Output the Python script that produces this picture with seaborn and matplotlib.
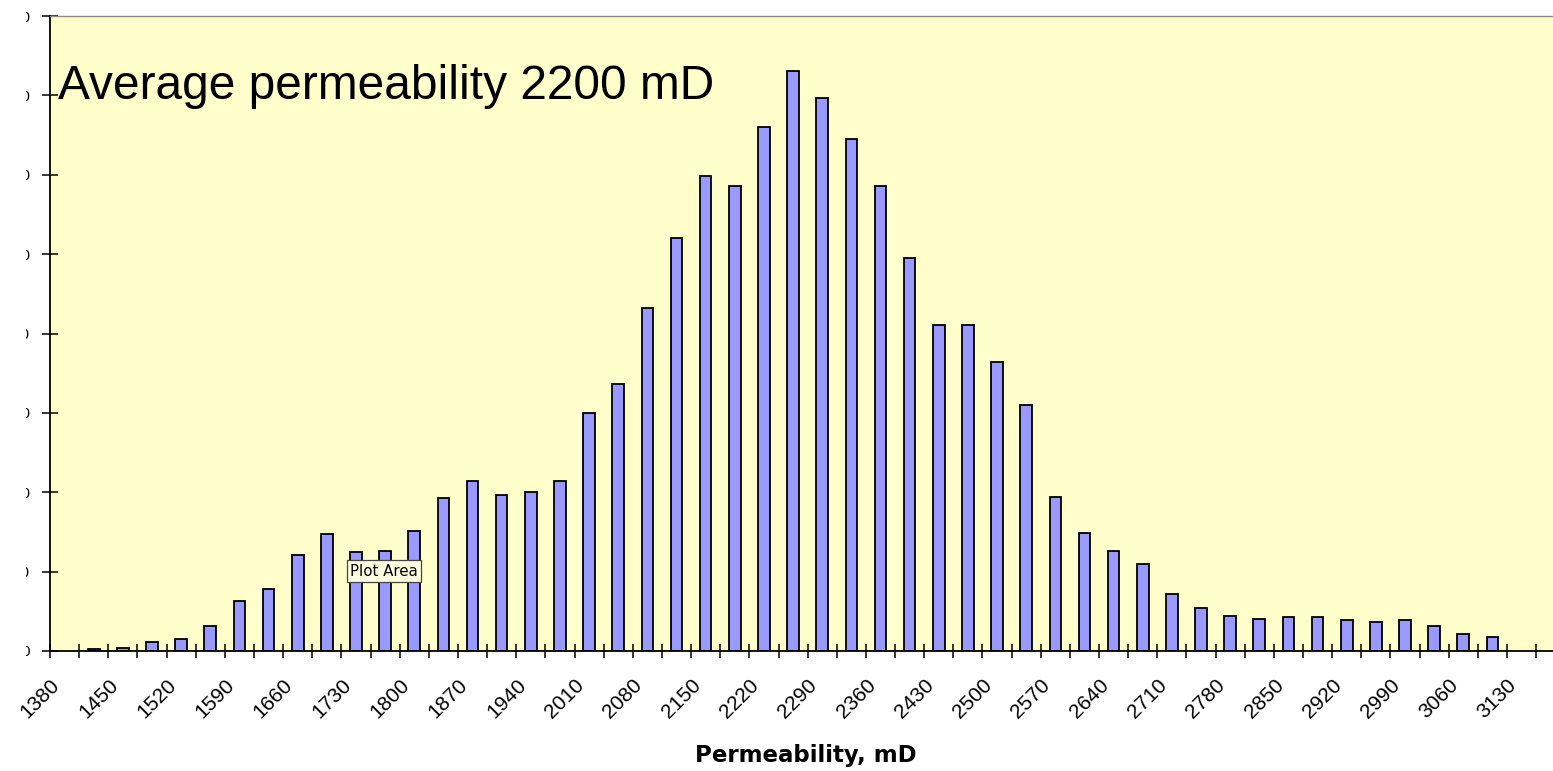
import numpy as np
import pandas as pd
import matplotlib
matplotlib.use("Agg")
import matplotlib.pyplot as plt
import seaborn as sns
from matplotlib.patches import Rectangle
from matplotlib.ticker import FixedLocator

# ---------------- data ----------------
bin_lower = list(range(1415, 3130, 35))          # 49 bins of 35 mD
counts = [0.21, 0.38, 1.13, 1.55, 3.11, 6.26, 7.77, 12.09, 14.78, 12.43,
          12.64, 15.18, 19.28, 21.42, 19.65, 20.07, 21.42, 29.98, 33.68, 43.21,
          51.99, 59.80, 58.62, 66.02, 73.03, 69.71, 64.47, 58.62, 49.47, 41.07,
          41.07, 36.37, 30.99, 19.44, 14.83, 12.64, 10.92, 7.18, 5.42, 4.45,
          4.07, 4.28, 4.25, 3.91, 3.66, 3.91, 3.11, 2.14, 1.73]
x_tick_values = list(range(1380, 3131, 70))
x_tick_labels = [str(v) for v in x_tick_values]
x_minor_values = list(range(1380, 3185, 35))
y_tick_values = [0, 10, 20, 30, 40, 50, 60, 70, 80]
y_tick_labels = [str(v) for v in y_tick_values]
title_text = "Average permeability 2200 mD"
x_label = "Permeability, mD"
tooltip_text = "Plot Area"

# ---------------- style ----------------
sns.set_style("ticks")
plt.rcParams['font.family'] = ['Liberation Sans', 'DejaVu Sans']
plt.rcParams['text.color'] = 'black'

W, H = 1553, 771
fig = plt.figure(figsize=(W / 100, H / 100), dpi=100)
fig.patch.set_facecolor("white")
ax = fig.add_axes([50 / W, 120 / H, (W - 50) / W, 635 / H])

df = pd.DataFrame({"center": np.array(bin_lower) + 17.5, "count": counts})
sns.barplot(data=df, x="center", y="count", native_scale=True, width=0.4,
            color="#9999FF", saturation=1, edgecolor="black", linewidth=1.3,
            ax=ax)

px_per_unit = 29.14 / 35
ax.set_xlim(1380, 1380 + (W - 50) / px_per_unit)
ax.set_ylim(0, 80)
ax.set_facecolor("#FFFFCC")
ax.set_xlabel("")
ax.set_ylabel("")

for s in ["left", "bottom"]:
    ax.spines[s].set_color("black")
    ax.spines[s].set_linewidth(1.3)
ax.spines["top"].set_visible(True)
ax.spines["top"].set_color("#8c8c8c")
ax.spines["top"].set_linewidth(1.0)
ax.spines["right"].set_visible(False)

ax.xaxis.set_major_locator(FixedLocator(x_tick_values))
ax.xaxis.set_minor_locator(FixedLocator(x_minor_values))
ax.set_xticklabels(x_tick_labels, rotation=45, ha="right", va="top",
                   rotation_mode="anchor")
ax.tick_params(axis="x", which="both", direction="inout", length=9.5,
               width=1.1, color="black")
ax.tick_params(axis="x", which="major", labelsize=15, pad=13,
               labelcolor="black")

ax.set_yticks(y_tick_values)
ax.set_yticklabels(y_tick_labels)
ax.tick_params(axis="y", direction="inout", length=11.5, width=1.1,
               color="black", labelsize=11, pad=8.6, labelcolor="black")

# title text inside the plot area
fig.text(58 / W, 1 - 99 / H, title_text, fontsize=34.5, ha="left",
         va="baseline", color="black")

# x axis title
fig.text(806 / W, 1 - 762 / H, x_label, fontsize=16.5, fontweight="bold",
         family=["DejaVu Sans"], ha="center", va="baseline", color="black")

# tooltip
fig.text(350 / W, 1 - 571 / H, tooltip_text, fontsize=10.8, ha="left",
         va="center", color="black", family=["DejaVu Sans"],
         bbox=dict(boxstyle="square,pad=0.22", facecolor="#FFFFE1",
                   edgecolor="#444444", linewidth=0.9), zorder=20)

# cropped left margin (only the tail of each y label shows)
fig.add_artist(Rectangle((0, (H - 662) / H), 26 / W, 662 / H,
                         transform=fig.transFigure, facecolor="white",
                         edgecolor="none", zorder=100))

fig.savefig("out.png", dpi=100)
